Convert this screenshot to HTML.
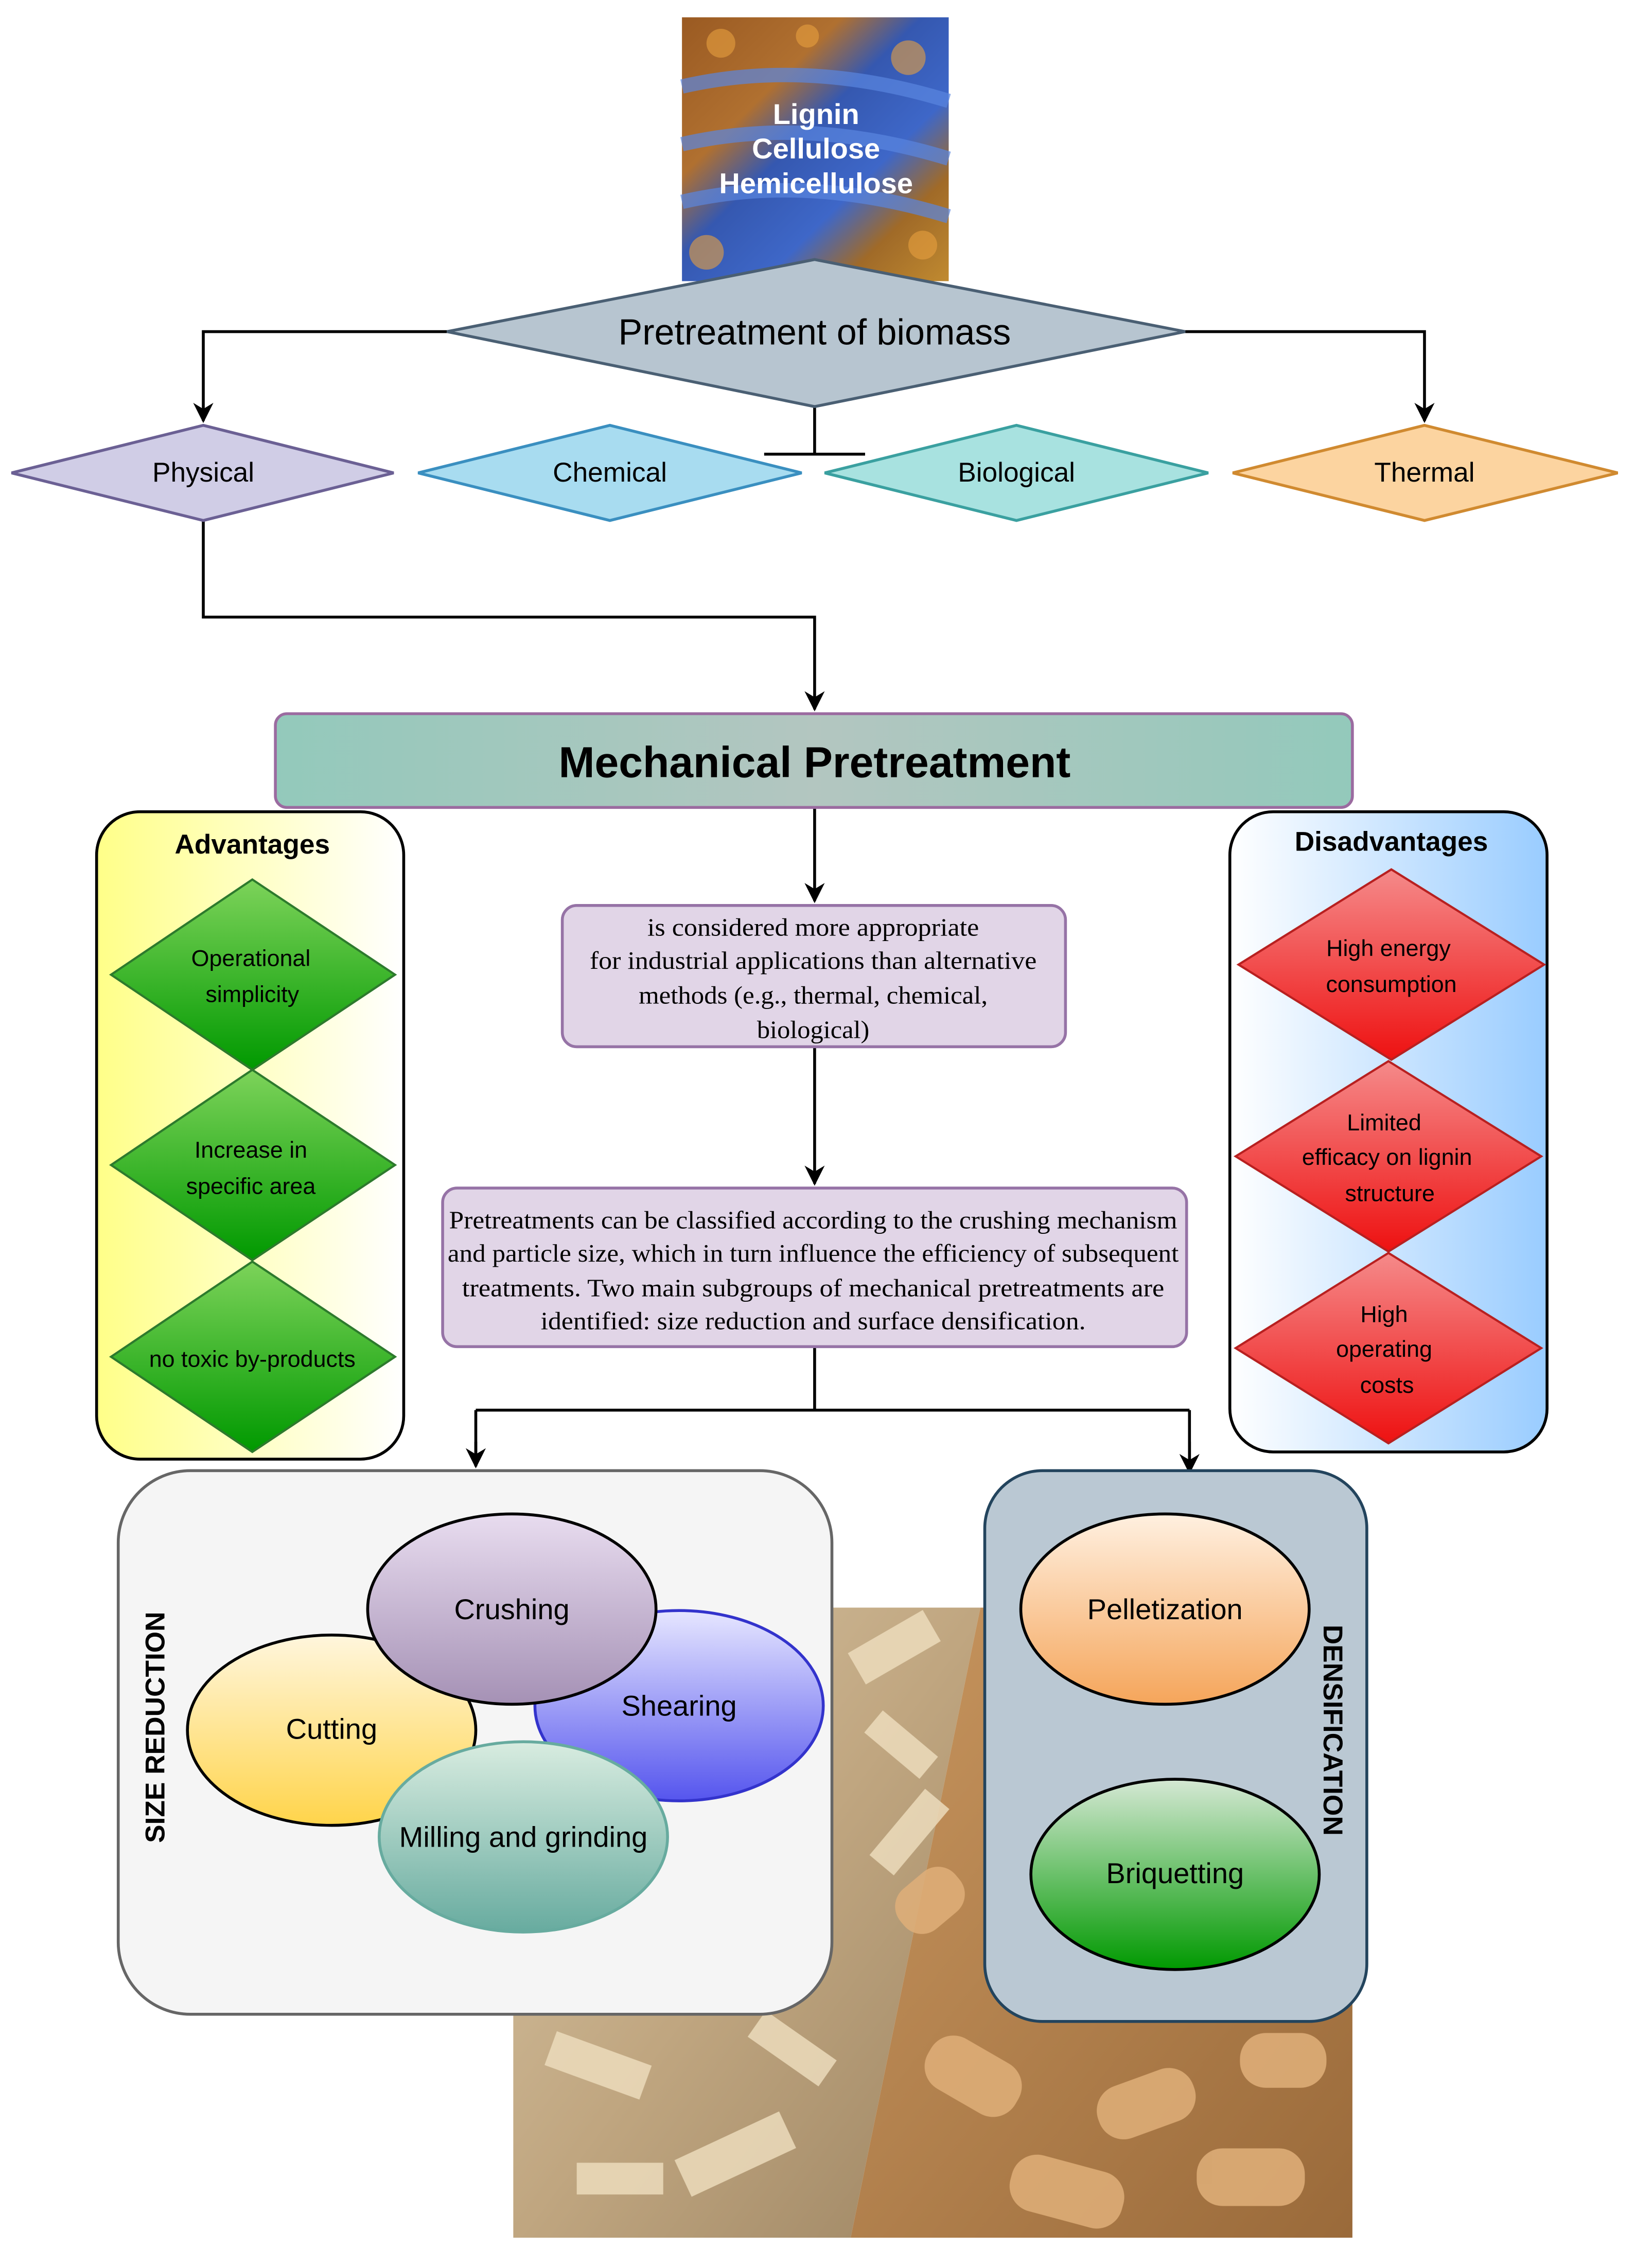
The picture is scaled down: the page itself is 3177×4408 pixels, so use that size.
<!DOCTYPE html>
<html><head><meta charset="utf-8"><style>html,body{margin:0;padding:0;background:#fff}svg{display:block}</style></head><body>
<svg width="3177" height="4408" viewBox="0 0 1134 1573" preserveAspectRatio="none" xmlns="http://www.w3.org/2000/svg" font-family="Liberation Sans, sans-serif">
<defs>
<linearGradient id="bio" x1="0" y1="0" x2="1" y2="1"><stop offset="0" stop-color="#9a5a22"/><stop offset="0.3" stop-color="#b07030"/><stop offset="0.45" stop-color="#3558b0"/><stop offset="0.65" stop-color="#3e67c8"/><stop offset="0.8" stop-color="#a06a28"/><stop offset="1" stop-color="#c08a30"/></linearGradient>
<linearGradient id="mech" x1="0" y1="0" x2="1" y2="0"><stop offset="0" stop-color="#93c9bb"/><stop offset="0.5" stop-color="#b3c6c0"/><stop offset="1" stop-color="#93c9bb"/></linearGradient>
<linearGradient id="adv" x1="0" y1="0" x2="1" y2="0"><stop offset="0" stop-color="#ffff88"/><stop offset="1" stop-color="#ffffff"/></linearGradient>
<linearGradient id="dis" x1="0" y1="0" x2="1" y2="0"><stop offset="0" stop-color="#ffffff"/><stop offset="1" stop-color="#99ccff"/></linearGradient>
<linearGradient id="grn" x1="0" y1="0" x2="0" y2="1"><stop offset="0" stop-color="#7dd35a"/><stop offset="1" stop-color="#009900"/></linearGradient>
<linearGradient id="red" x1="0" y1="0" x2="0" y2="1"><stop offset="0" stop-color="#f58a8a"/><stop offset="1" stop-color="#ee1111"/></linearGradient>
<linearGradient id="gCr" x1="0" y1="0" x2="0" y2="1"><stop offset="0" stop-color="#e8dcef"/><stop offset="1" stop-color="#a591b5"/></linearGradient>
<linearGradient id="gSh" x1="0" y1="0" x2="0" y2="1"><stop offset="0" stop-color="#e6e6ff"/><stop offset="1" stop-color="#5555ee"/></linearGradient>
<linearGradient id="gCu" x1="0" y1="0" x2="0" y2="1"><stop offset="0" stop-color="#fff6dd"/><stop offset="1" stop-color="#ffd44a"/></linearGradient>
<linearGradient id="gMi" x1="0" y1="0" x2="0" y2="1"><stop offset="0" stop-color="#d8ece0"/><stop offset="1" stop-color="#67ab9f"/></linearGradient>
<linearGradient id="gPe" x1="0" y1="0" x2="0" y2="1"><stop offset="0" stop-color="#fff0e0"/><stop offset="1" stop-color="#f5a55a"/></linearGradient>
<linearGradient id="gBr" x1="0" y1="0" x2="0" y2="1"><stop offset="0" stop-color="#d5e8d4"/><stop offset="1" stop-color="#009900"/></linearGradient>
<linearGradient id="wood" x1="0" y1="0" x2="1" y2="1"><stop offset="0" stop-color="#d8c6a6"/><stop offset="0.5" stop-color="#c0a680"/><stop offset="1" stop-color="#9d8563"/></linearGradient>
<linearGradient id="pel" x1="0" y1="0" x2="1" y2="1"><stop offset="0" stop-color="#c8965f"/><stop offset="1" stop-color="#9a6a3a"/></linearGradient>
<marker id="ar" viewBox="0 0 10 10" refX="9" refY="5" markerWidth="7" markerHeight="7" orient="auto"><path d="M0,0 L10,5 L0,10 L3,5z" fill="#000"/></marker>
</defs>
<rect x="473" y="12" width="185" height="183" fill="url(#bio)"/>
<path d="M473,60 Q560,40 658,70 M473,100 Q560,80 658,110 M473,140 Q560,120 658,150" stroke="#5a86e0" stroke-width="10" fill="none" opacity="0.7"/>
<g fill="#e8a040" opacity="0.6"><circle cx="500" cy="30" r="10"/><circle cx="630" cy="40" r="12"/><circle cx="490" cy="175" r="12"/><circle cx="640" cy="170" r="10"/><circle cx="560" cy="25" r="8"/></g>
<g fill="#fff" font-weight="bold" font-size="20" text-anchor="middle"><text x="566" y="86">Lignin</text><text x="566" y="110">Cellulose</text><text x="566" y="134">Hemicellulose</text></g>
<g stroke="#000" stroke-width="2" fill="none">
<path d="M310,230 H141 V292" marker-end="url(#ar)"/>
<path d="M822,230 H988 V292" marker-end="url(#ar)"/>
<path d="M565,282 V315 M530,315 H600"/>
<path d="M141,361 V428 H565 V492" marker-end="url(#ar)"/>
<path d="M565,560 V625" marker-end="url(#ar)"/>
<path d="M565,726 V821" marker-end="url(#ar)"/>
<path d="M565,934 V978 M330,978 H825 M330,978 V1017 M825,978 V1021" />
<path d="M330,1000 V1017" marker-end="url(#ar)"/><path d="M825,1000 V1021" marker-end="url(#ar)"/>
</g>
<polygon points="310,230 565,180 822,230 565,282" fill="#b7c5d0" stroke="#4a5f73" stroke-width="2"/>
<text x="565" y="239" font-size="25" text-anchor="middle">Pretreatment of biomass</text>
<g stroke-width="2" font-size="19" text-anchor="middle">
<polygon points="8,328 141,295 273,328 141,361" fill="#d0cde6" stroke="#6b6094"/><text x="141" y="334">Physical</text>
<polygon points="290,328 423,295 556,328 423,361" fill="#a8dcf0" stroke="#3a8fc0"/><text x="423" y="334">Chemical</text>
<polygon points="572,328 705,295 838,328 705,361" fill="#a8e2e0" stroke="#3aa0a0"/><text x="705" y="334">Biological</text>
<polygon points="855,328 988,295 1122,328 988,361" fill="#fcd4a0" stroke="#d08a30"/><text x="988" y="334">Thermal</text>
</g>
<rect x="191" y="495" width="747" height="65" rx="8" fill="url(#mech)" stroke="#9b6ba0" stroke-width="2"/>
<text x="565" y="539" font-size="30" font-weight="bold" text-anchor="middle">Mechanical Pretreatment</text>
<rect x="67" y="563" width="213" height="449" rx="30" fill="url(#adv)" stroke="#000" stroke-width="2"/>
<text x="175" y="592" font-size="19" font-weight="bold" text-anchor="middle">Advantages</text>
<g fill="url(#grn)" stroke="#2d7a2d" stroke-width="1.5">
<polygon points="77,676 175,610 274,676 175,742"/><polygon points="77,808 175,742 274,808 175,874"/><polygon points="77,941 175,875 274,941 175,1007"/>
</g>
<g font-size="16" text-anchor="middle"><text x="174" y="670">Operational</text><text x="175" y="695">simplicity</text><text x="174" y="803">Increase in</text><text x="174" y="828">specific area</text><text x="175" y="948">no toxic by-products</text></g>
<rect x="853" y="563" width="220" height="444" rx="30" fill="url(#dis)" stroke="#000" stroke-width="2"/>
<text x="965" y="590" font-size="19" font-weight="bold" text-anchor="middle">Disadvantages</text>
<g fill="url(#red)" stroke="#b82020" stroke-width="1.5">
<polygon points="859,669 965,603 1071,669 965,735"/><polygon points="857,802 963,736 1069,802 963,868"/><polygon points="857,935 963,869 1069,935 963,1001"/>
</g>
<g font-size="16" text-anchor="middle"><text x="963" y="663">High energy</text><text x="965" y="688">consumption</text><text x="960" y="784">Limited</text><text x="962" y="808">efficacy on lignin</text><text x="964" y="833">structure</text><text x="960" y="917">High</text><text x="960" y="941">operating</text><text x="962" y="966">costs</text></g>
<g font-family="Liberation Serif, serif" font-size="17.5" text-anchor="middle" lengthAdjust="spacingAndGlyphs">
<rect x="390" y="628" width="349" height="98" rx="10" fill="#e1d5e7" stroke="#9673a6" stroke-width="2"/>
<text x="564" y="649" textLength="230" lengthAdjust="spacingAndGlyphs">is considered more appropriate</text><text x="564" y="672" textLength="310" lengthAdjust="spacingAndGlyphs">for industrial applications than alternative</text><text x="564" y="696" textLength="242" lengthAdjust="spacingAndGlyphs">methods (e.g., thermal, chemical,</text><text x="564" y="720" textLength="78" lengthAdjust="spacingAndGlyphs">biological)</text>
<rect x="307" y="824" width="516" height="110" rx="10" fill="#e1d5e7" stroke="#9673a6" stroke-width="2"/>
<text x="564" y="852" textLength="505" lengthAdjust="spacingAndGlyphs">Pretreatments can be classified according to the crushing mechanism</text><text x="564" y="875" textLength="507" lengthAdjust="spacingAndGlyphs">and particle size, which in turn influence the efficiency of subsequent</text><text x="564" y="899" textLength="487" lengthAdjust="spacingAndGlyphs">treatments.  Two main subgroups of mechanical pretreatments are</text><text x="564" y="922" textLength="378" lengthAdjust="spacingAndGlyphs">identified:  size reduction and surface densification.</text>
</g>
<polygon points="356,1115 680,1115 590,1552 356,1552" fill="url(#wood)"/>
<polygon points="680,1115 938,1115 938,1552 590,1552" fill="url(#pel)"/>
<g fill="#ecdcbc" opacity="0.85"><rect x="590" y="1130" width="60" height="25" transform="rotate(-30 620 1142)"/><rect x="600" y="1200" width="50" height="20" transform="rotate(40 625 1210)"/><rect x="600" y="1260" width="60" height="22" transform="rotate(-50 630 1270)"/><rect x="380" y="1420" width="70" height="25" transform="rotate(20 415 1432)"/><rect x="470" y="1480" width="80" height="28" transform="rotate(-25 510 1494)"/><rect x="400" y="1500" width="60" height="22"/><rect x="520" y="1410" width="60" height="22" transform="rotate(35 550 1420)"/></g>
<g fill="#e0b07a" opacity="0.85"><rect x="640" y="1420" width="70" height="40" rx="18" transform="rotate(30 675 1440)"/><rect x="760" y="1440" width="70" height="38" rx="18" transform="rotate(-20 795 1459)"/><rect x="860" y="1410" width="60" height="38" rx="18"/><rect x="700" y="1500" width="80" height="40" rx="18" transform="rotate(15 740 1520)"/><rect x="830" y="1490" width="75" height="40" rx="18"/><rect x="620" y="1300" width="50" height="36" rx="16" transform="rotate(-40 645 1318)"/></g>
<rect x="82" y="1020" width="495" height="377" rx="50" fill="#f5f5f5" stroke="#666" stroke-width="2"/>
<text transform="translate(114,1198) rotate(-90)" font-size="19" font-weight="bold" text-anchor="middle">SIZE REDUCTION</text>
<g stroke="#000" stroke-width="2" font-size="20" text-anchor="middle">
<ellipse cx="471" cy="1183" rx="100" ry="66" fill="url(#gSh)" stroke="#3333cc"/>
<ellipse cx="230" cy="1200" rx="100" ry="66" fill="url(#gCu)"/>
<ellipse cx="355" cy="1116" rx="100" ry="66" fill="url(#gCr)"/>
<ellipse cx="363" cy="1274" rx="100" ry="66" fill="url(#gMi)" stroke="#67ab9f"/>
</g>
<g font-size="20" text-anchor="middle"><text x="471" y="1190">Shearing</text><text x="230" y="1206">Cutting</text><text x="355" y="1123">Crushing</text><text x="363" y="1281">Milling and grinding</text></g>
<rect x="683" y="1020" width="265" height="382" rx="40" fill="#bac8d3" stroke="#23445d" stroke-width="2"/>
<text transform="translate(918,1200) rotate(90)" font-size="19" font-weight="bold" text-anchor="middle">DENSIFICATION</text>
<ellipse cx="808" cy="1116" rx="100" ry="66" fill="url(#gPe)" stroke="#000" stroke-width="2"/>
<ellipse cx="815" cy="1300" rx="100" ry="66" fill="url(#gBr)" stroke="#000" stroke-width="2"/>
<g font-size="20" text-anchor="middle"><text x="808" y="1123">Pelletization</text><text x="815" y="1306">Briquetting</text></g>
</svg>
</body></html>
